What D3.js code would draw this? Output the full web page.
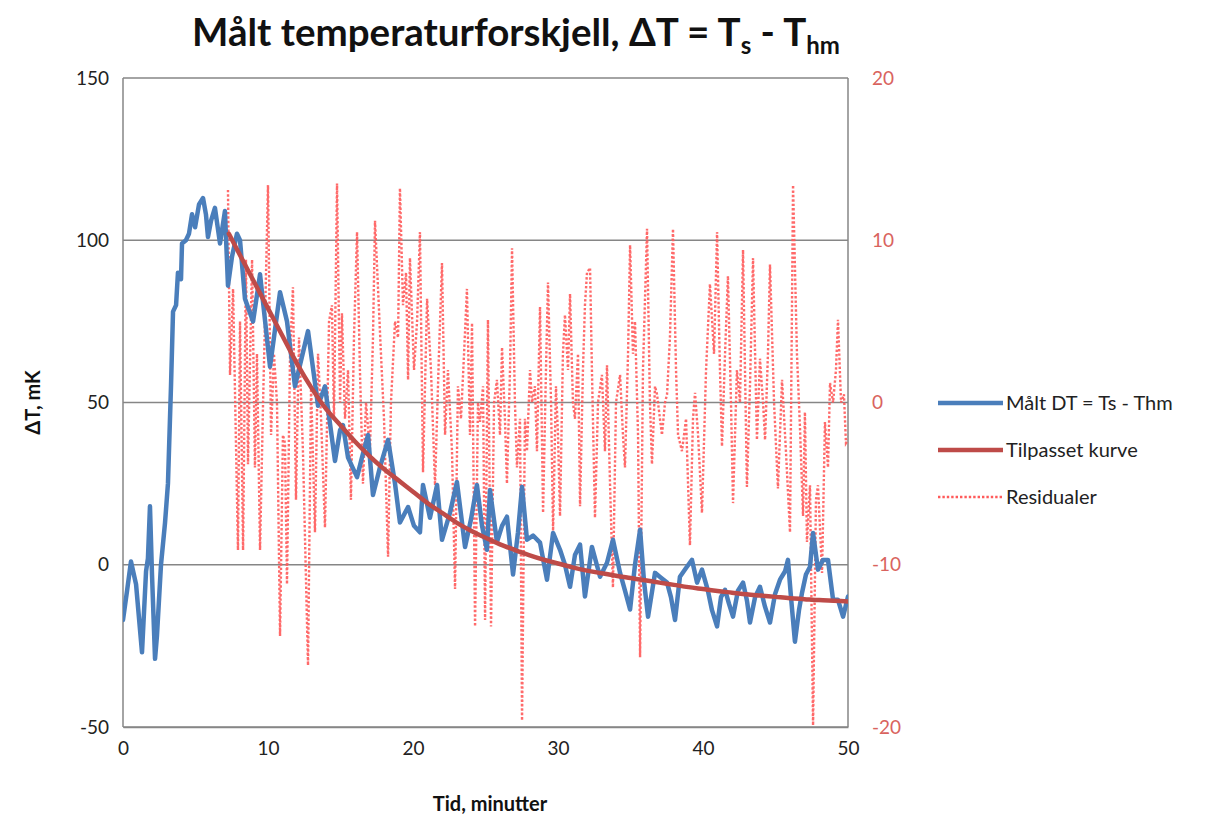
<!DOCTYPE html>
<html>
<head>
<meta charset="utf-8">
<script src="https://cdn.jsdelivr.net/npm/d3@7"></script>
<style>
  html, body { margin: 0; padding: 0; background: #fff; }
  svg { display: block; font-family: Lato, "Open Sans", "Liberation Sans", sans-serif; }
</style>
</head>
<body>
<svg id="chart" width="1231" height="821"></svg>
<script>
// ---------- DATA ----------
const measuredTime = [0,0.28,0.55,0.90,1.31,1.59,1.72,1.86,2.00,2.21,2.34,2.62,2.90,3.10,3.31,3.45,3.66,3.79,4.00,4.07,4.34,4.55,4.76,4.97,5.24,5.52,5.72,5.86,6.07,6.34,6.69,7.03,7.24,7.52,7.86,8.07,8.41,8.97,9.45,10.14,10.83,11.31,11.86,12.76,13.45,13.93,14.62,14.97,15.17,15.52,16.14,16.48,16.90,17.24,17.72,18.28,18.76,19.10,19.66,20.07,20.48,20.69,21.17,21.66,22.00,22.55,23.03,23.59,24.00,24.41,24.76,25.10,25.31,25.79,26.14,26.48,26.90,27.24,27.52,27.86,28.28,28.76,29.24,29.66,30.14,30.48,30.83,31.17,31.52,31.86,32.34,32.90,33.38,33.79,34.28,34.62,34.97,35.31,35.66,35.93,36.21,36.69,37.10,37.52,37.79,38.07,38.41,38.83,39.24,39.59,39.93,40.34,40.62,40.97,41.24,41.52,41.79,42.07,42.41,42.76,43.03,43.24,43.59,43.93,44.28,44.62,44.97,45.31,45.66,45.86,46.07,46.34,46.62,46.83,47.10,47.38,47.59,47.93,48.28,48.62,48.97,49.31,49.66,50.00];
const measuredDT = [-17,-8,1,-6,-27,-2,2,18,-3,-29,-22,0,13,25,55,78,80,90,88,99,100,102,108,104,111,113,108,101,106,110,99,109,86,95,102,100,82,75,89.5,61,84,75,55,72,49,55,32,41.5,43,33,27,33,40,21.5,30,38.5,25,13,17.8,12,10,24.6,14.5,24.6,7.7,16,25.5,5.5,14,24.6,12,4.6,23,7,12,14.8,-3,10,24,7.7,9,6.8,-4.6,9.8,4.6,0,-6.8,3,6.2,-9.8,5.5,-3.7,0.6,7.7,-2.5,-8,-13.8,0,10.8,-5,-16,-2.5,-4,-5.5,-10,-17,-3.7,-1,1.5,-5.5,-1.5,-8,-14,-19,-10,-7.7,-12,-16,-8,-5.5,-11,-17.8,-10,-6.8,-13,-17.8,-9,-4.6,-2,1.5,-10,-23.7,-14,-8.6,-3,-0.6,9.8,-1.5,1.5,1.5,-10.8,-10.8,-16,-9.8];

const fitTime = [7.3,8,9,10,11,12,13,14,15,16,17,18,19,20,21,22,23,24,25,26,27,28,29,30,31,32,33,34,35,36,37,38,39,40,41,42,43,44,45,46,47,48,49,50];
const fitDT = [102,96,87.5,79,70.5,62,54.5,48,43,38,33.5,29.5,26,22.5,19,16,13,10.5,8.3,6.3,4.6,3,1.6,0.4,-0.8,-1.8,-2.6,-3.4,-4.1,-4.8,-5.5,-6.2,-6.9,-7.5,-8.1,-8.6,-9.1,-9.5,-9.9,-10.3,-10.6,-10.9,-11.1,-11.3];

const residualTime = [7.24,7.38,7.59,7.93,8.07,8.28,8.48,8.62,8.90,9.10,9.24,9.45,9.66,9.79,10.00,10.21,10.41,10.62,10.83,11.03,11.17,11.31,11.52,11.72,11.93,12.14,12.41,12.76,12.97,13.24,13.45,13.66,13.93,14.21,14.41,14.55,14.76,14.97,15.10,15.31,15.52,15.72,15.93,16.14,16.34,16.55,16.76,17.03,17.24,17.38,17.59,17.79,18.00,18.28,18.48,18.76,18.97,19.10,19.31,19.52,19.66,19.79,20.07,20.28,20.48,20.69,20.97,21.24,21.52,21.79,22.00,22.21,22.41,22.69,22.90,23.10,23.31,23.52,23.72,23.93,24.07,24.28,24.48,24.62,24.83,24.97,25.17,25.38,25.59,25.79,26.00,26.14,26.34,26.48,26.69,26.83,27.03,27.17,27.38,27.52,27.72,27.86,28.07,28.21,28.41,28.55,28.76,28.97,29.17,29.31,29.52,29.66,29.86,30.00,30.14,30.34,30.48,30.69,30.83,31.03,31.17,31.38,31.52,31.72,31.86,32.00,32.21,32.34,32.55,32.76,33.03,33.24,33.38,33.59,33.79,34.00,34.28,34.48,34.62,34.83,34.97,35.17,35.31,35.52,35.66,35.86,36.14,36.34,36.48,36.69,36.83,37.03,37.17,37.38,37.52,37.72,37.93,38.14,38.28,38.55,38.83,39.10,39.31,39.45,39.66,39.93,40.21,40.48,40.76,40.97,41.17,41.31,41.52,41.72,41.93,42.07,42.34,42.55,42.76,43.03,43.24,43.45,43.72,43.93,44.14,44.28,44.48,44.62,44.90,45.17,45.45,45.72,46.00,46.21,46.48,46.69,46.90,47.03,47.17,47.38,47.59,47.79,47.93,48.21,48.41,48.62,48.76,48.97,49.17,49.31,49.52,49.72,49.86,50.00];
const residuals = [13.1,1.7,7,-9.1,5,-9.1,8.8,-3.8,8.8,-4,3,-9.1,0,5,13.4,-2,3,0,-14.4,-2,-2.5,-11.2,3,7.1,-6,4,-3,-16.2,1,-8,3,-1,-7.7,5,6,-1,13.5,0,5.5,-1,2,-6,4,10.5,2,-5,0,-3,4,11.2,7,3,-1,-9.5,0,5,4,13.2,6,8,1.4,8.9,2,5,10.5,-4.3,6.4,2,-5.1,3,8.6,-2,2,-3,-11.5,1,-1,3,7,-2,4.9,-13.8,0,-1.2,1,-13.4,5.1,-13.8,0,1.4,-2,3.4,-1,-5,2,9.5,0,-4,-1,-19.6,-1,-3,2,0,1,-3,5.9,-6.8,2,7.4,0,-7.9,1,-2,-7,3,5.4,2,6.7,0,-1,3,-6.4,2,6,8,8.3,2,-7.1,0,1.7,-3,2.3,-5.1,-11.4,0,1.7,-2,-4,3,9.7,3,5,-2,-15.7,2,10.7,0,-3.8,1,0.5,-1,-2,0,0.5,4,10.7,2,-2,-3,-1,-8.8,-1,0.6,-2,-6.8,2,7.3,3,10.5,2,-2.7,3,7.8,0,-6.2,2,0,9.4,-5.2,1,8.9,-2.3,2.7,0,-2.3,3,8.5,0,-5.3,1.4,-3,-8,13.4,3,-1.6,-7,-0.6,-8.6,-5.1,-19.9,-6,-5.1,-10.5,-1.2,-4,1.2,0,2,5.1,0,0.5,-2.5,-2.3];

const xTicks = [0,10,20,30,40,50];
const yLeftTicks = [-50,0,50,100,150];
const yRightTicks = [-20,-10,0,10,20];
const seriesNames = ["Målt DT = Ts - Thm","Tilpasset kurve","Residualer"];

// ---------- LAYOUT ----------
const svg = d3.select("#chart");
const L = 123, R = 848, T = 78, B = 727;
const x = d3.scaleLinear().domain([0,50]).range([L,R]);
const yL = d3.scaleLinear().domain([-50,150]).range([B,T]);
const yR = d3.scaleLinear().domain([-20,20]).range([B,T]);

const gridColor = "#868686";
const blue = "#4a7ebb", red = "#be4b48", resid = "#ff5a5a";
const fontStack = "Lato, 'Open Sans', sans-serif";
const fmt = d => String(d);

// gridlines
svg.append("g").selectAll("line").data(yLeftTicks).join("line")
  .attr("x1", L).attr("x2", R)
  .attr("y1", d => yL(d)).attr("y2", d => yL(d))
  .attr("stroke", gridColor).attr("stroke-width", 1.3);
svg.append("line").attr("x1", L).attr("x2", L).attr("y1", T).attr("y2", B).attr("stroke", gridColor).attr("stroke-width", 1.5);
svg.append("line").attr("x1", R).attr("x2", R).attr("y1", T).attr("y2", B).attr("stroke", gridColor).attr("stroke-width", 1.5);

svg.append("defs").append("clipPath").attr("id","clip")
  .append("rect").attr("x", L).attr("y", T-2).attr("width", R-L).attr("height", B-T+4);

const plot = svg.append("g").attr("clip-path","url(#clip)");

// residuals (right axis)
const resLine = d3.line().x((d,i) => x(residualTime[i])).y(d => yR(d));
plot.append("path").datum(residuals).attr("d", resLine)
  .attr("fill","none").attr("stroke", resid).attr("stroke-width", 2.4)
  .attr("stroke-dasharray","2.4,2").attr("opacity",0.9);

// measured
const mLine = d3.line().x((d,i) => x(measuredTime[i])).y(d => yL(d));
plot.append("path").datum(measuredDT).attr("d", mLine)
  .attr("fill","none").attr("stroke", blue).attr("stroke-width", 4.5)
  .attr("stroke-linejoin","round").attr("stroke-linecap","round");

// fit
const fLine = d3.line().curve(d3.curveMonotoneX).x((d,i) => x(fitTime[i])).y(d => yL(d));
plot.append("path").datum(fitDT).attr("d", fLine)
  .attr("fill","none").attr("stroke", red).attr("stroke-width", 4.5)
  .attr("stroke-linecap","round");

// axes labels
const fs = 19;
const axB = d3.axisBottom(x).tickValues(xTicks).tickFormat(fmt).tickSize(0).tickPadding(15);
svg.append("g").attr("transform",`translate(0,${B})`).call(axB)
  .call(g => g.select(".domain").attr("stroke", gridColor).attr("stroke-width",1.5))
  .selectAll("text").attr("font-size", fs).attr("fill","#222").style("font-family", fontStack);

const axL = d3.axisLeft(yL).tickValues(yLeftTicks).tickFormat(fmt).tickSize(0).tickPadding(14);
svg.append("g").attr("transform",`translate(${L},0)`).call(axL)
  .call(g => g.select(".domain").remove())
  .selectAll("text").attr("font-size", fs).attr("fill","#222").style("font-family", fontStack);

const axR = d3.axisRight(yR).tickValues(yRightTicks).tickFormat(fmt).tickSize(0).tickPadding(24);
svg.append("g").attr("transform",`translate(${R},0)`).call(axR)
  .call(g => g.select(".domain").remove())
  .selectAll("text").attr("font-size", fs).attr("fill","#d9635e").style("font-family", fontStack);

// axis titles
svg.append("text").attr("x", 490).attr("y", 811).attr("text-anchor","middle")
  .attr("font-size", 20).attr("font-weight","bold").attr("fill","#111").text("Tid, minutter");
svg.append("text").attr("transform",`translate(40,${(T+B)/2}) rotate(-90)`).attr("text-anchor","middle")
  .attr("font-size", 20).attr("font-weight","bold").attr("fill","#111").text("ΔT, mK");

// title
const title = svg.append("text").attr("x", 516).attr("y", 46).attr("text-anchor","middle")
  .attr("font-size", 38.5).attr("font-weight","bold").attr("fill","#111");
title.append("tspan").text("Målt temperaturforskjell, ΔT = T");
title.append("tspan").attr("font-size", 24).attr("dy", 8).text("s");
title.append("tspan").attr("dy", -8).text(" - T");
title.append("tspan").attr("font-size", 24).attr("dy", 8).text("hm");

// legend
const legend = svg.append("g");
const legStyles = [
  {stroke: blue, w: 4.5, dash: null},
  {stroke: red, w: 4.5, dash: null},
  {stroke: resid, w: 2.4, dash: "2.4,2"}
];
seriesNames.forEach((name, i) => {
  const yy = 403 + i*47;
  legend.append("line").attr("x1", 938).attr("x2", 1003).attr("y1", yy).attr("y2", yy)
    .attr("stroke", legStyles[i].stroke).attr("stroke-width", legStyles[i].w)
    .attr("stroke-dasharray", legStyles[i].dash);
  legend.append("text").attr("x", 1006).attr("y", yy).attr("dy","0.35em")
    .attr("font-size", 20).attr("fill","#222").text(name);
});
</script>
</body>
</html>
